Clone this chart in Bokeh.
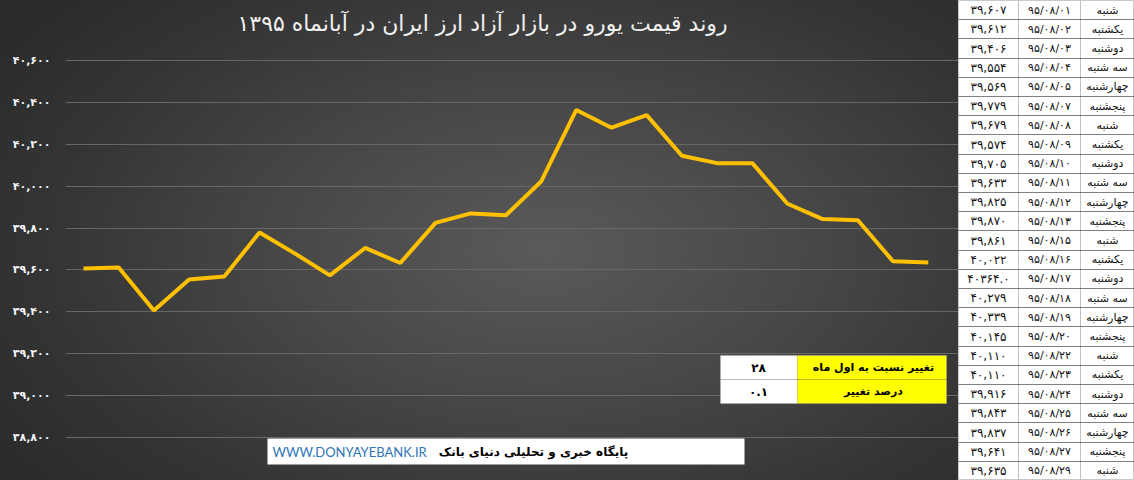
from bokeh.plotting import figure
from bokeh.models import Range1d, FixedTicker, BoxAnnotation, Label, ColumnDataSource
from bokeh.layouts import row
from bokeh.embed import file_html
from bokeh.resources import INLINE
from bokeh.core.properties import value

# ---------------- data ----------------
days = ["شنبه", "یکشنبه", "دوشنبه", "سه شنبه", "چهارشنبه", "پنجشنبه",
        "شنبه", "یکشنبه", "دوشنبه", "سه شنبه", "چهارشنبه", "پنجشنبه",
        "شنبه", "یکشنبه", "دوشنبه", "سه شنبه", "چهارشنبه", "پنجشنبه",
        "شنبه", "یکشنبه", "دوشنبه", "سه شنبه", "چهارشنبه", "پنجشنبه", "شنبه"]
dates = ["95/08/01", "95/08/02", "95/08/03", "95/08/04", "95/08/05", "95/08/07",
         "95/08/08", "95/08/09", "95/08/10", "95/08/11", "95/08/12", "95/08/13",
         "95/08/15", "95/08/16", "95/08/17", "95/08/18", "95/08/19", "95/08/20",
         "95/08/22", "95/08/23", "95/08/24", "95/08/25", "95/08/26", "95/08/27", "95/08/29"]
rates = [39607, 39612, 39406, 39554, 39569, 39779, 39679, 39574, 39705, 39633,
         39825, 39870, 39861, 40022, 40364, 40279, 40339, 40145, 40110, 40110,
         39916, 39843, 39837, 39641, 39635]
y_ticks = [38800, 39000, 39200, 39400, 39600, 39800, 40000, 40200, 40400, 40600]
plain_format_rows = [14]  # row shown without thousands separator in the source table
title_text = "روند قیمت یورو در بازار آزاد ارز ایران در آبانماه ۱۳۹۵"
change_labels = ["تغییر نسبت به اول ماه", "درصد تغییر"]
site_url = "WWW.DONYAYEBANK.IR"
site_name = "پایگاه خبری و تحلیلی دنیای بانک"

# ---------------- helpers ----------------
FA = str.maketrans("0123456789", "۰۱۲۳۴۵۶۷۸۹")


def fa(s):
    return str(s).translate(FA)


def fa_num(v):
    return fa(f"{v:,}")


FONT_FA = "DejaVu Sans"

# layout (page pixels of the reference)
FRAME_LEFT_PAGE, FRAME_RIGHT_PAGE = 65, 958
PAGE_TOP, PAGE_BOTTOM = 0, 480
X0_PAGE, X_STEP = 83, 35.2
Y_HI_PAGE, Y_LO_PAGE = 60, 437
PPU = (Y_LO_PAGE - Y_HI_PAGE) / (y_ticks[-1] - y_ticks[0])


def px(xp):
    return (xp - X0_PAGE) / X_STEP


def py(yp):
    return y_ticks[-1] - (yp - Y_HI_PAGE) / PPU


x_idx = list(range(len(rates)))

# ---------------- chart ----------------
p = figure(frame_width=FRAME_RIGHT_PAGE - FRAME_LEFT_PAGE, frame_height=PAGE_BOTTOM - PAGE_TOP,
           x_range=Range1d(px(FRAME_LEFT_PAGE), px(FRAME_RIGHT_PAGE)),
           y_range=Range1d(py(PAGE_BOTTOM), py(PAGE_TOP)),
           x_axis_location=None, output_backend="svg", toolbar_location=None,
           min_border_left=FRAME_LEFT_PAGE, min_border_right=0, min_border_top=0, min_border_bottom=0,
           background_fill_alpha=0, border_fill_alpha=0, outline_line_color=None,
           styles={"background": "radial-gradient(ellipse 70% 80% at 57% 52%, #5a5a5a 0%, #474747 40%, #343434 75%, #2a2a2a 100%)"})
p.xgrid.visible = False
p.ygrid.grid_line_color = "#676767"
p.ygrid.grid_line_width = 1
p.yaxis.ticker = FixedTicker(ticks=y_ticks)
p.yaxis.major_label_overrides = {t: fa_num(t) for t in y_ticks}
p.yaxis.axis_line_color = None
p.yaxis.major_tick_line_color = None
p.yaxis.minor_tick_line_color = None
p.yaxis.major_tick_out = 0
p.yaxis.major_tick_in = 0
p.yaxis.major_label_standoff = 15
p.yaxis.major_label_text_color = "#f4f6fa"
p.yaxis.major_label_text_font = FONT_FA
p.yaxis.major_label_text_font_style = "bold"
p.yaxis.major_label_text_font_size = "11px"

p.line(x=x_idx, y=rates, line_color="#FFC000", line_width=4)

p.add_layout(Label(x=px(482), y=py(23), text=title_text, text_align="center", text_baseline="middle",
                   text_color="#f0f0f0", text_font=FONT_FA, text_font_size="22px"))

# change table
first_last_change = rates[-1] - rates[0]
change_pct = round(first_last_change / rates[0] * 100, 1)
p.add_layout(BoxAnnotation(left=px(720), right=px(797), top=py(355), bottom=py(403),
                           fill_color="white", fill_alpha=1, line_color=None))
p.add_layout(BoxAnnotation(left=px(797), right=px(946), top=py(355), bottom=py(403),
                           fill_color="#FFFF00", fill_alpha=1, line_color=None))
p.add_layout(BoxAnnotation(left=px(720), right=px(946), top=py(379), bottom=py(379),
                           fill_alpha=0, line_color="black", line_dash="1 1", line_width=1))
p.add_layout(BoxAnnotation(left=px(720), right=px(946), top=py(355), bottom=py(403),
                           fill_alpha=0, line_color="#bcbcbc", line_width=1))
for i, (lab, val) in enumerate(zip(change_labels, [fa(first_last_change), fa(change_pct)])):
    yc = py(367 + 24 * i)
    p.add_layout(Label(x=px(758), y=yc, text=val, text_align="center", text_baseline="middle",
                       text_color="black", text_font=FONT_FA, text_font_style="bold", text_font_size="12px"))
    p.add_layout(Label(x=px(873), y=yc, text=lab, text_align="center", text_baseline="middle",
                       text_color="black", text_font=FONT_FA, text_font_style="bold", text_font_size="11px"))

# footer
p.add_layout(BoxAnnotation(left=px(267), right=px(744), top=py(438), bottom=py(464),
                           fill_color="white", fill_alpha=1, line_color=None))
p.add_layout(Label(x=px(272), y=py(451), text=site_url, text_align="left", text_baseline="middle",
                   text_color="#2e75b6", text_font="Lato", text_font_size="13px"))
p.add_layout(Label(x=px(533), y=py(451), text=site_name, text_align="center", text_baseline="middle",
                   text_color="black", text_font=FONT_FA, text_font_style="bold", text_font_size="12px"))

# ---------------- side table ----------------
col_edges = [0, 60, 122, 176]
col_centers = [(a + b) / 2 for a, b in zip(col_edges[:-1], col_edges[1:])]
n = len(rates)
val_text = [fa(f"{v}.0") if i in plain_format_rows else fa_num(v) for i, v in enumerate(rates)]
src = ColumnDataSource(dict(
    y=[i + 0.5 for i in range(n)],
    val=val_text, date=[fa(d) for d in dates], day=days,
    xv=[col_centers[0]] * n, xd=[col_centers[1]] * n, xw=[col_centers[2]] * n))

t = figure(frame_width=col_edges[-1], frame_height=PAGE_BOTTOM - PAGE_TOP,
           x_range=Range1d(col_edges[0], col_edges[-1]), y_range=Range1d(n, 0),
           x_axis_location=None, y_axis_location=None, output_backend="svg", toolbar_location=None,
           min_border=0, background_fill_color="white", border_fill_color="white",
           outline_line_color="#c8c8c8")
t.xgrid.ticker = FixedTicker(ticks=col_edges[1:-1])
t.xgrid.grid_line_color = "#c0c0c0"
t.ygrid.ticker = FixedTicker(ticks=list(range(1, n)))
t.ygrid.grid_line_color = "black"
t.ygrid.grid_line_dash = "1 1"
col_sizes = {"val": "12px", "date": "11px", "day": "11px"}
for col in ["val", "date", "day"]:
    xcol = {"val": "xv", "date": "xd", "day": "xw"}[col]
    t.text(x=xcol, y="y", text=col, source=src, text_align="center", text_baseline="middle",
           text_font=value(FONT_FA), text_font_size=col_sizes[col], text_color="#111111")

layout = row(p, t)
open("out.html", "w").write(file_html(layout, INLINE))
